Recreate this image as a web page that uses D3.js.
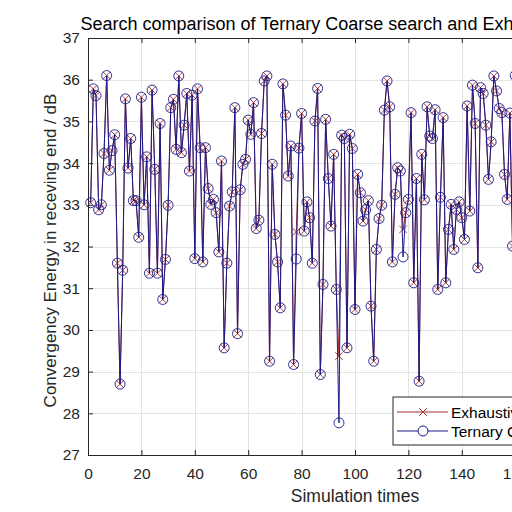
<!DOCTYPE html>
<html>
<head>
<meta charset="utf-8">
<script src="https://cdn.jsdelivr.net/npm/d3@7/dist/d3.min.js"></script>
<style>
  body { margin: 0; background: #fff; }
  svg { display: block; font-family: "Liberation Sans", Arial, sans-serif; }
</style>
</head>
<body>
<div id="chart"></div>
<script>
// Ternary coarse search result, one value per simulation (index starts at 1)
var ternary = [
  33.05, 35.78, 35.62, 32.88, 33.00, 34.23, 36.10, 33.83, 34.30, 34.68,
  31.60, 28.70, 31.43, 35.54, 33.88, 34.59, 33.10, 33.10, 32.22, 35.58,
  33.00, 34.15, 31.36, 35.75, 33.85, 31.36, 34.95, 30.73, 31.69, 32.99,
  35.33, 35.53, 34.33, 36.09, 34.25, 34.91, 35.67, 33.81, 35.63, 31.71,
  35.78, 34.37, 31.63, 34.37, 33.39, 33.01, 33.13, 32.81, 31.87, 34.05,
  29.57, 31.60, 32.97, 33.31, 35.33, 29.91, 33.36, 33.97, 34.09, 35.03,
  34.69, 35.45, 32.43, 32.63, 34.71, 35.97, 36.09, 29.25, 33.97, 32.29,
  31.63, 30.53, 35.90, 35.15, 33.69, 34.41, 29.17, 31.70, 34.36, 35.19,
  32.37, 33.07, 32.69, 31.60, 35.01, 35.79, 28.93, 31.09, 35.05, 33.63,
  32.49, 34.21, 30.97, 27.77, 34.67, 34.59, 29.57, 34.69, 34.35, 30.49,
  33.73, 33.29, 32.61, 32.88, 33.10, 30.57, 29.25, 31.93, 32.67, 32.99,
  35.27, 35.97, 35.35, 31.63, 33.25, 33.89, 33.81, 31.75, 32.81, 33.13,
  35.21, 31.13, 33.63, 28.77, 34.21, 33.12, 35.35, 34.65, 34.59, 35.28,
  30.97, 33.18, 35.09, 31.13, 32.41, 33.01, 31.93, 32.89, 33.07, 32.69,
  32.17, 35.37, 32.85, 35.87, 34.95, 31.49, 35.81, 35.67, 34.91, 33.61,
  34.51, 36.09, 35.73, 35.31, 35.21, 33.73, 33.13, 35.20, 32.01, 36.10
];

// Exhaustive search gives the same value except at these simulations
var exhaustiveIdx = [78, 94, 118];
var exhaustiveVal = [32.35, 29.37, 32.41];

var xTicks = [0, 20, 40, 60, 80, 100, 120, 140, 160, 180, 200];
var yTicks = [27, 28, 29, 30, 31, 32, 33, 34, 35, 36, 37];

var titleText = "Search comparison of Ternary Coarse search and Exhaustive search";
var seriesNames = ["Exhaustive search", "Ternary Coarse search"];

function init() {
    var W = 512, H = 512;
    var left = 88, top = 38, right = 622, bottom = 455;

    var svg = d3.select("#chart").append("svg")
        .attr("width", W)
        .attr("height", H);

    var x = d3.scaleLinear().domain([0, 200]).range([left, right]);
    var y = d3.scaleLinear().domain([27, 37]).range([bottom, top]);

    // build both series as {i, v}
    var tern = ternary.map(function(v, k) { return {i: k + 1, v: v}; });
    var exh = tern.map(function(d) {
        var j = exhaustiveIdx.indexOf(d.i);
        return {i: d.i, v: j >= 0 ? exhaustiveVal[j] : d.v};
    });

    var colExh = "#a2302e";
    var colTern = "#1c1c8a";
    var axisCol = "#262626";

    svg.append("rect")
        .attr("x", left).attr("y", top)
        .attr("width", right - left).attr("height", bottom - top)
        .attr("fill", "#fff");

    // grid
    var grid = svg.append("g").attr("stroke", "#e3e3e3").attr("stroke-width", 1);
    grid.selectAll("line.gx").data(xTicks).enter().append("line")
        .attr("x1", function(d) { return Math.round(x(d)) + 0.5; })
        .attr("x2", function(d) { return Math.round(x(d)) + 0.5; })
        .attr("y1", top).attr("y2", bottom);
    grid.selectAll("line.gy").data(yTicks).enter().append("line")
        .attr("y1", function(d) { return Math.round(y(d)) + 0.5; })
        .attr("y2", function(d) { return Math.round(y(d)) + 0.5; })
        .attr("x1", left).attr("x2", right);

    var line = d3.line()
        .x(function(d) { return x(d.i); })
        .y(function(d) { return y(d.v); });

    // exhaustive first, ternary on top
    svg.append("path").datum(exh)
        .attr("d", line).attr("fill", "none")
        .attr("stroke", colExh).attr("stroke-width", 1);

    var cross = d3.symbol().type(d3.symbolX).size(40);
    svg.append("g").selectAll("path").data(exh).enter().append("path")
        .attr("d", cross)
        .attr("transform", function(d) { return "translate(" + x(d.i) + "," + y(d.v) + ")"; })
        .attr("fill", "none").attr("stroke", colExh).attr("stroke-width", 0.9);

    svg.append("path").datum(tern)
        .attr("d", line).attr("fill", "none")
        .attr("stroke", colTern).attr("stroke-width", 1);

    svg.append("g").selectAll("circle").data(tern).enter().append("circle")
        .attr("cx", function(d) { return x(d.i); })
        .attr("cy", function(d) { return y(d.v); })
        .attr("r", 5)
        .attr("fill", "none").attr("stroke", colTern).attr("stroke-width", 0.9);

    // axes, ticks pointing inward like matlab
    var xAxis = svg.append("g")
        .attr("transform", "translate(0," + bottom + ")")
        .call(d3.axisBottom(x).tickValues(xTicks).tickSize(-5).tickPadding(13));
    var xTop = svg.append("g")
        .attr("transform", "translate(0," + top + ")")
        .call(d3.axisTop(x).tickValues(xTicks).tickSize(-5).tickFormat(""));
    var yAxis = svg.append("g")
        .attr("transform", "translate(" + left + ",0)")
        .call(d3.axisLeft(y).tickValues(yTicks).tickSize(-5).tickPadding(8));

    [xAxis, xTop, yAxis].forEach(function(g) {
        g.select(".domain").attr("stroke", axisCol);
        g.selectAll(".tick line").attr("stroke", axisCol);
        g.selectAll("text").attr("fill", axisCol)
            .attr("font-size", "15.5px")
            .attr("font-family", "Liberation Sans, Arial, sans-serif");
    });

    // legend
    var lg = svg.append("g").attr("transform", "translate(393,397)");
    lg.append("rect")
        .attr("width", 200).attr("height", 48)
        .attr("fill", "#fff").attr("stroke", axisCol).attr("stroke-width", 1);
    var rows = [
        {name: seriesNames[0], col: colExh, yy: 15},
        {name: seriesNames[1], col: colTern, yy: 34}
    ];
    rows.forEach(function(r, k) {
        lg.append("line").attr("x1", 4).attr("x2", 55)
            .attr("y1", r.yy).attr("y2", r.yy)
            .attr("stroke", r.col).attr("stroke-width", 1);
        if (k == 0) {
            lg.append("path").attr("d", cross)
                .attr("transform", "translate(30," + r.yy + ")")
                .attr("fill", "none").attr("stroke", r.col);
        } else {
            lg.append("circle").attr("cx", 30).attr("cy", r.yy).attr("r", 5)
                .attr("fill", "#fff").attr("stroke", r.col);
        }
        lg.append("text").attr("x", 58).attr("y", r.yy + 5.5)
            .attr("font-size", "15.5px").attr("fill", "#000")
            .text(r.name);
    });

    // labels
    svg.append("text")
        .attr("x", (left + right) / 2).attr("y", 30)
        .attr("text-anchor", "middle").attr("font-size", "18px").attr("fill", "#000")
        .text(titleText);
    svg.append("text")
        .attr("x", (left + right) / 2).attr("y", 502)
        .attr("text-anchor", "middle").attr("font-size", "17.5px").attr("fill", axisCol)
        .text("Simulation times");
    svg.append("text")
        .attr("transform", "translate(56," + ((top + bottom) / 2 + 4) + ") rotate(-90)")
        .attr("text-anchor", "middle").attr("font-size", "17px").attr("fill", axisCol)
        .text("Convergency Energy in receving end / dB");
}

window.onload = init;
</script>
</body>
</html>
